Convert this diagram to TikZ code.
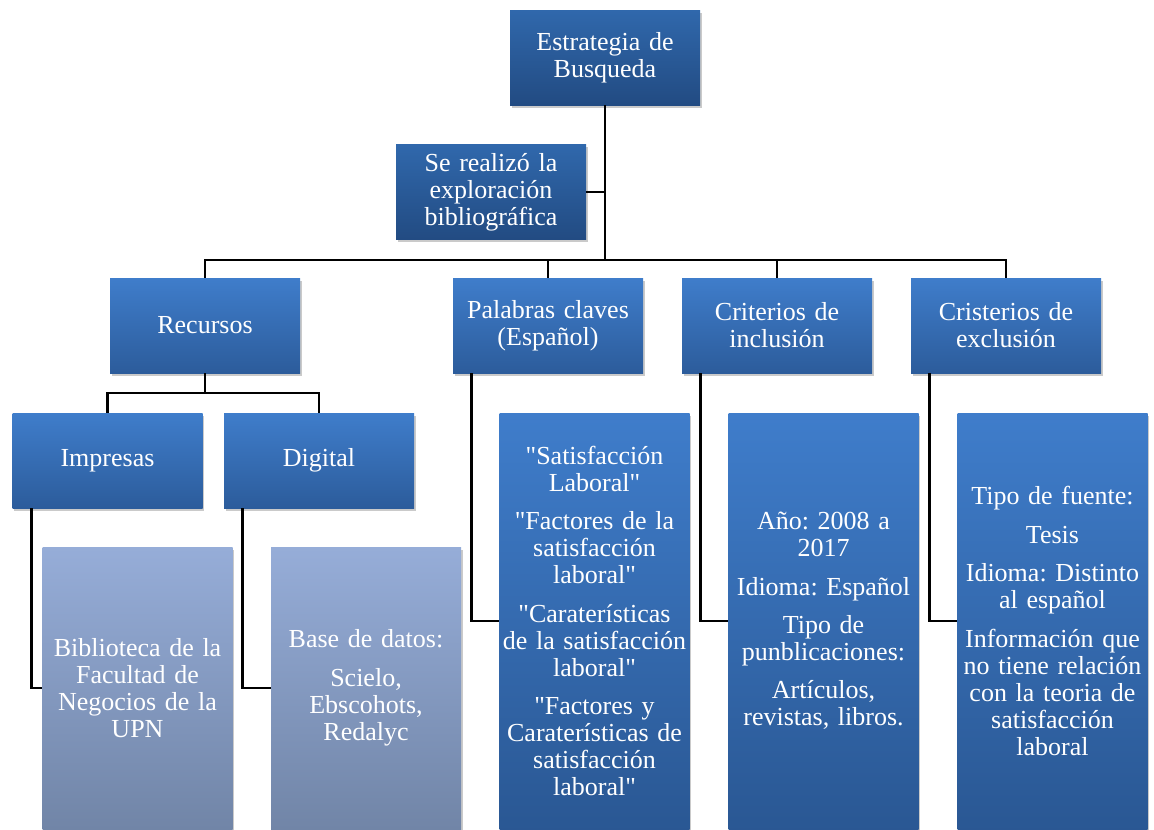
\documentclass[tikz,border=0pt]{standalone}
\usepackage{fontspec}
\setmainfont{Liberation Serif}
\newfontfamily\quotefont{Liberation Serif}[Ligatures=ResetAll]
\usepackage{tikz}
\usetikzlibrary{shadows}
\definecolor{darktop}{HTML}{3068AC}
\definecolor{darkbot}{HTML}{224B82}
\definecolor{midtop}{HTML}{3F7DCB}
\definecolor{midbot}{HTML}{2C5C9B}
\definecolor{lighttop}{HTML}{96ADD8}
\definecolor{lightbot}{HTML}{7185A7}
\newcommand\straightq{{\quotefont"}}

\begin{document}
\frenchspacing
\begin{tikzpicture}[x=0.75pt,y=-0.75pt,
 box/.style={rectangle,inner sep=0.5pt,align=center,text=white,text width=141pt,
  minimum width=142.5pt,minimum height=71.25pt,
  font=\fontsize{19.5}{20.3}\selectfont,
  drop shadow={shadow xshift=1.2pt,shadow yshift=-2.2pt,opacity=0.35,fill=black!60}},
 head/.style={box,top color=darktop,bottom color=darkbot},
 lvl/.style={box,top color=midtop,bottom color=midbot},
 leaf/.style={box,minimum height=211.5pt,top color=lighttop,bottom color=lightbot},
 tall/.style={box,minimum height=312pt,top color=midtop,bottom color=midbot!95!black},
 link/.style={draw=black,line width=2.2pt}]
\useasboundingbox (0,0) rectangle (1154,829);
% upper part
\node[head] (top) at (605,57.5) {Estrategia de\\Busqueda};
\node[head] (expl) at (491,192) {Se realizó la\\exploración\\bibliográfica};
\node[lvl] (rec) at (205,325.5) {Recursos};
\node[lvl] (pal) at (548,325.5) {Palabras claves\\(Español)};
\node[lvl] (inc) at (777,325.5) {Criterios de\\inclusión};
\node[lvl] (exc) at (1006,325.5) {Cristerios de\\exclusión};
\node[lvl] (imp) at (107.5,460.5) {Impresas};
\node[lvl] (dig) at (319,460.5) {Digital};
% lower boxes
\node[leaf] (bib) at (137.5,688) {Biblioteca de la\\Facultad de\\Negocios de la\\UPN};
\node[leaf] (bd) at (366,688) {Base de datos:\\[8.5pt]Scielo,\\Ebscohots,\\Redalyc};
\node[tall] (kw) at (594.5,621) {\straightq Satisfacción\\Laboral\straightq\\[8.5pt]\straightq Factores de la\\satisfacción\\laboral\straightq\\[8.5pt]\straightq Caraterísticas\\de la satisfacción\\laboral\straightq\\[8.5pt]\straightq Factores y\\Caraterísticas de\\satisfacción\\laboral\straightq};
\node[tall] (incl) at (823.5,621) {Año: 2008 a\\2017\\[8.5pt]Idioma: Español\\[8.5pt]Tipo de\\punblicaciones:\\[8.5pt]Artículos,\\revistas, libros.};
\node[tall] (excl) at (1052.5,621) {Tipo de fuente:\\[8.5pt]Tesis\\[8.5pt]Idioma: Distinto\\al español\\[8.5pt]Información que\\no tiene relación\\con la teoria de\\satisfacción\\laboral};
% connectors
\coordinate (hub) at (605,260);
\coordinate (rhub) at (205,393);
\draw[link] (top.south) -- (hub);
\draw[link] (expl.east) -- (expl.east -| top.south);
\draw[link] (hub) -| (rec.north);
\draw[link] (hub) -| (pal.north);
\draw[link] (hub) -| (inc.north);
\draw[link] (hub) -| (exc.north);
\draw[link] (rec.south) -- (rhub);
\draw[link] (rhub) -| (imp.north);
\draw[link] (rhub) -| (dig.north);
\draw[link] (imp.south west) ++(19,0) |- (bib.west);
\draw[link] (dig.south west) ++(19,0) |- (bd.west);
\draw[link] (pal.south west) ++(19,0) |- (kw.west);
\draw[link] (inc.south west) ++(19,0) |- (incl.west);
\draw[link] (exc.south west) ++(19,0) |- (excl.west);
\end{tikzpicture}
\end{document}
